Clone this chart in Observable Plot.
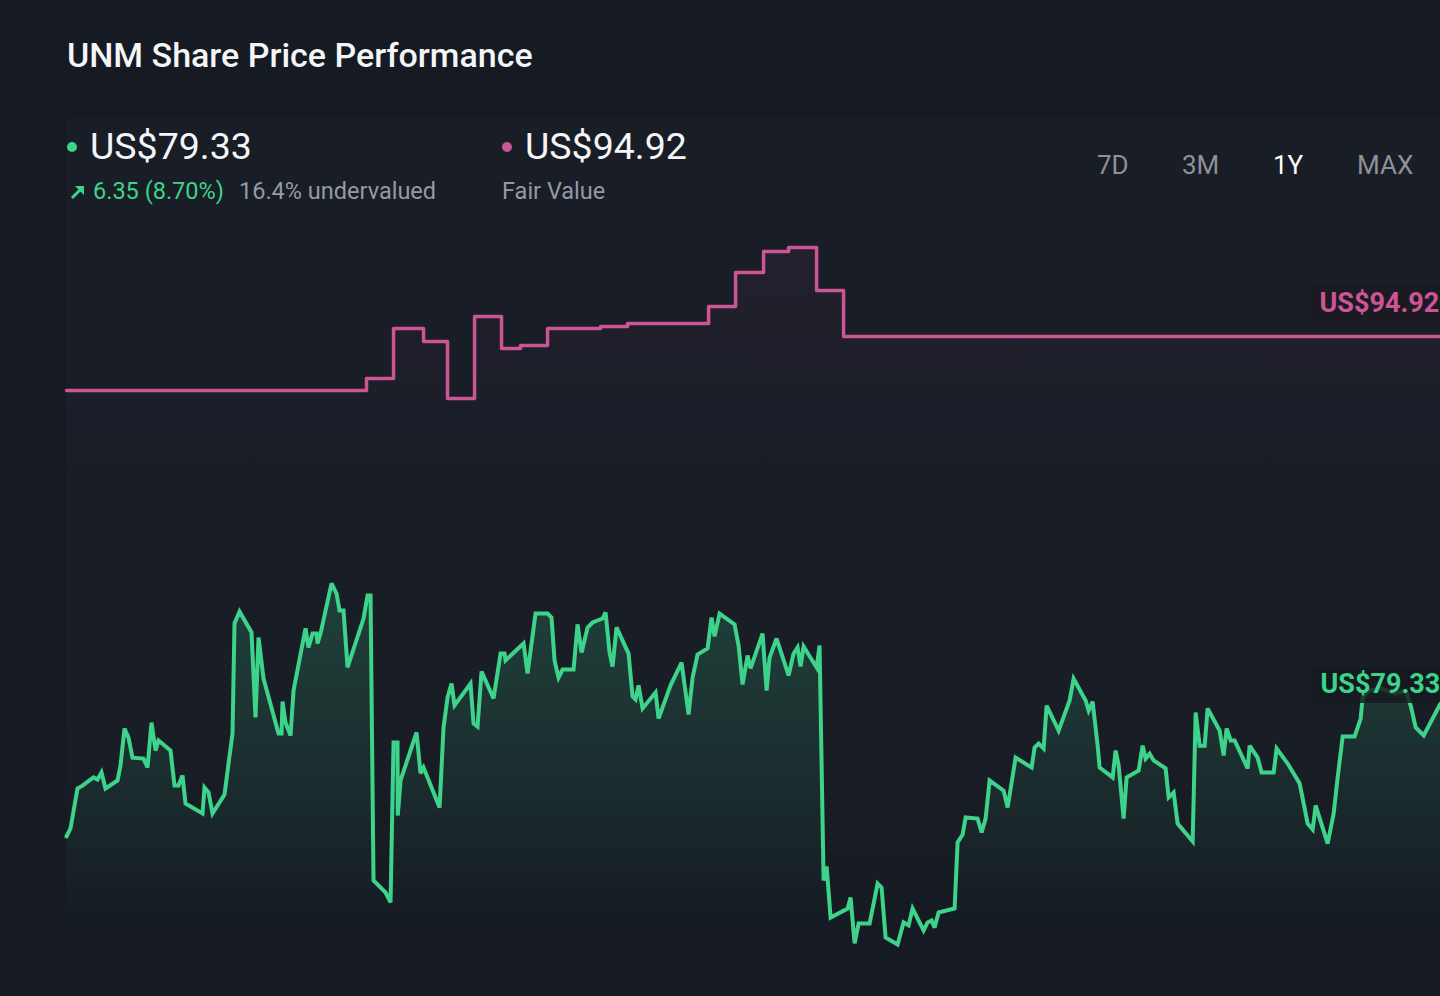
<!DOCTYPE html>
<html>
<head>
<meta charset="utf-8">
<script src="https://cdn.jsdelivr.net/npm/d3@7"></script>
<script src="https://cdn.jsdelivr.net/npm/@observablehq/plot@0.6"></script>
<style>
  html, body { margin: 0; padding: 0; background: #151a23; overflow: hidden; }
  #page { position: relative; width: 1440px; height: 996px; font-family: Roboto, "Noto Sans", sans-serif; }
  #panel { position: absolute; left: 66px; top: 118px; width: 1374px; height: 815px;
           background: linear-gradient(#181d26 0%, #181d26 75%, #151a23 100%); }
  #header { position: relative; height: 210px; }
  .abs { position: absolute; line-height: 1; white-space: nowrap; }
  #title { left: 67px; top: 38px; font-size: 34px; font-weight: 500; color: #f4f5f7; }
  .big { top: 128px; font-size: 37.5px; color: #f4f5f7; }
  .dot { position: absolute; width: 10px; height: 10px; border-radius: 50%; }
  .sub { top: 180px; font-size: 23.5px; }
  .rng { top: 152px; font-size: 26px; color: #8d9299; }
  #chart { position: relative; }
</style>
</head>
<body>
<div id="page">
  <div id="panel"></div>
  <div id="header"></div>
  <div id="chart"></div>
</div>
<script>
// ---------- data ----------
const ticker = "UNM";
const lastPrice = 79.33;
const fairValueNow = 94.92;
const change = "6.35 (8.70%)";
const valuation = "16.4% undervalued";
const ranges = ["7D", "3M", "1Y", "MAX"];
const activeRange = "1Y";

// share price over the last year (day offset, US$)
const priceDay = [0,1.06,2.92,4.25,7.17,8.24,9.30,10.36,13.55,14.35,15.41,16.47,17.53,20.46,21.52,22.58,23.65,24.44,27.63,28.69,29.76,30.82,31.62,36.13,36.66,37.73,38.79,41.98,43.04,44.10,44.63,45.96,49.15,50.21,51.01,52.34,56.32,57.12,57.39,58.18,59.51,60.31,63.50,64.29,65.36,66.42,66.69,67.48,70.41,71.73,72.53,73.59,74.66,78.91,79.97,80.77,81.56,84.75,86.08,86.88,87.94,88.00,88.74,92.99,94.05,94.85,99.10,100.16,101.22,102.29,103.08,107.33,108.13,109.19,110.26,113.44,115.31,116.37,116.63,121.42,122.48,124.60,127.79,128.85,129.65,130.71,131.78,134.70,135.76,136.83,138.42,139.75,142.40,143.20,144.26,145.06,146.12,149.31,150.37,151.17,151.97,153.03,156.49,157.28,160.47,163.39,165.25,166.32,167.64,170.30,171.36,172.16,173.49,177.47,178.54,179.60,180.93,181.72,184.91,185.98,186.77,188.63,191.82,193.15,194.21,195.01,195.81,199.26,200.05,201.12,201.92,202.98,207.50,208.29,209.36,210.42,213.34,215.47,216.53,217.59,220.78,222.37,223.70,224.76,227.69,228.75,229.81,230.61,231.67,235.92,236.72,238.05,238.85,242.03,243.10,244.16,245.22,248.94,250.01,252.13,256.38,257.18,258.24,259.57,260.37,263.55,266.48,267.54,270.73,271.53,272.59,273.92,274.45,277.90,278.70,279.50,280.82,281.62,284.81,285.87,286.67,287.73,288.80,291.98,292.78,294.11,295.17,299.16,299.96,301.02,302.35,303.14,306.33,307.39,308.19,309.25,310.31,313.77,314.30,316.42,317.49,320.68,321.47,324.40,327.59,329.71,331.04,331.83,335.02,336.62,337.68,339.01,342.20,343.79,344.32,345.91,349.10,353.09,355.75,357.08,358.41,360.54,365];
const priceValue = [73.68,74.02,75.72,75.84,76.19,76.10,76.40,75.72,76.06,76.70,78.27,77.88,77.03,76.99,76.61,78.52,77.33,77.76,77.33,75.85,75.85,76.27,75.08,74.66,75.76,75.55,74.66,75.46,76.78,78.05,82.73,83.24,82.35,78.74,82.13,80.39,78.05,78.05,79.41,78.52,77.97,79.88,82.52,81.71,82.30,82.30,81.88,82.30,84.43,84.00,83.28,83.28,80.86,82.94,83.92,83.92,71.81,71.30,70.88,77.67,77.67,74.57,76.06,78.10,76.36,76.61,74.91,78.31,79.59,80.18,79.25,80.18,78.48,78.35,80.69,79.54,81.45,81.45,81.16,81.88,80.60,83.15,83.15,82.98,81.16,80.43,80.77,80.77,82.69,81.50,82.56,82.77,82.94,83.20,81.50,80.90,82.56,81.45,79.63,79.50,80.10,79.12,79.80,78.69,80.10,81.07,78.86,80.43,81.41,81.67,82.98,82.18,83.15,82.69,81.79,80.14,81.37,80.82,82.30,79.88,81.28,82.09,80.52,81.45,81.71,80.90,81.75,80.86,81.79,71.81,72.41,70.24,70.62,71.09,69.14,69.98,69.98,71.68,71.51,69.39,69.09,70.03,69.90,70.62,69.69,70.03,70.11,69.81,70.45,70.62,73.43,73.76,74.49,74.44,73.85,74.44,76.06,75.63,74.91,77.03,76.61,77.46,77.63,77.42,79.24,78.18,79.46,80.39,79.46,79.03,79.41,77.54,76.61,76.19,77.33,76.70,74.44,76.19,76.48,77.54,76.99,77.20,76.91,76.57,75.34,75.55,74.23,73.47,78.95,77.54,77.54,79.12,78.18,77.12,78.27,77.76,77.76,76.57,77.54,77.03,76.40,76.40,77.42,76.78,75.93,74.23,73.98,75.00,73.38,74.66,76.19,77.93,77.93,78.69,79.59,79.88,79.97,79.75,79.88,79.24,78.31,77.97,79.33];

// fair value estimate (step changes), day offset, US$
const fairDay = [0,79.70,86.88,94.85,101.22,108.40,115.57,120.62,127.79,141.87,149.05,170.57,177.74,185.18,191.82,199.26,206.43,365];
const fairValue = [92.63,93.14,95.26,94.71,92.29,95.77,94.41,94.54,95.26,95.34,95.47,96.19,97.64,98.53,98.70,96.87,94.92,94.92];

// ---------- colours ----------
const GREEN = "#3dd38b";
const PINK = "#cc5596";

// ---------- header ----------
const header = document.getElementById("header");
function addEl(cls, id, text, style) {
  const el = document.createElement("div");
  el.className = cls;
  if (id) el.id = id;
  if (text != null) el.textContent = text;
  Object.assign(el.style, style || {});
  header.appendChild(el);
  return el;
}
addEl("abs", "title", `${ticker} Share Price Performance`);
addEl("dot", null, null, { left: "67px", top: "142px", background: GREEN });
addEl("abs big", null, `US$${lastPrice.toFixed(2)}`, { left: "90px" });
addEl("dot", null, null, { left: "502px", top: "142px", background: PINK });
addEl("abs big", null, `US$${fairValueNow.toFixed(2)}`, { left: "525px" });
// arrow icon
const arrow = document.createElement("div");
arrow.className = "abs";
Object.assign(arrow.style, { left: "69px", top: "183px" });
arrow.innerHTML = `<svg width="18" height="18" viewBox="0 0 18 18"><path d="M3 15 L12 6" fill="none" stroke="${GREEN}" stroke-width="3"/><path d="M6 3 H15 V12 Z" fill="${GREEN}"/></svg>`;
header.appendChild(arrow);
addEl("abs sub", null, change, { left: "93px", color: GREEN });
addEl("abs sub", null, valuation, { left: "239px", color: "#959aa1" });
addEl("abs sub", null, "Fair Value", { left: "502px", color: "#959aa1" });
const rangeX = [1097, 1182, 1273, 1357];
ranges.forEach((r, i) => addEl("abs rng", null, r, { left: rangeX[i] + "px", color: r === activeRange ? "#ffffff" : "#8d9299" }));

// ---------- chart ----------
const price = priceDay.map((d, i) => ({ day: d, value: priceValue[i] }));
const fair = fairDay.map((d, i) => ({ day: d, value: fairValue[i] }));
const NS = "http://www.w3.org/2000/svg";

const gradients = (index, scales) => {
  const defs = document.createElementNS(NS, "defs");
  const gTop = scales.y(d3.max(priceValue)), gBot = scales.y(69.6);
  const pTop = scales.y(d3.max(fairValue)), pBot = scales.y(89);
  defs.innerHTML =
    `<linearGradient id="gGreen" gradientUnits="userSpaceOnUse" x1="0" x2="0" y1="${gTop}" y2="${gBot}">
       <stop offset="0" stop-color="${GREEN}" stop-opacity="0.2"/>
       <stop offset="1" stop-color="${GREEN}" stop-opacity="0"/>
     </linearGradient>
     <linearGradient id="gPink" gradientUnits="userSpaceOnUse" x1="0" x2="0" y1="${pTop}" y2="${pBot}">
       <stop offset="0" stop-color="${PINK}" stop-opacity="0.06"/>
       <stop offset="1" stop-color="${PINK}" stop-opacity="0"/>
     </linearGradient>`;
  return defs;
};

const labelBoxes = (index, scales) => {
  const g = document.createElementNS(NS, "g");
  const xEnd = scales.x(d3.max(priceDay));
  const boxes = [
    { v: fairValue[fairValue.length - 1], top: -52, bottom: -14, fill: "#1b1a22", op: 0.95 },
    { v: priceValue[priceValue.length - 1], top: -35, bottom: 0, fill: "#141a1e", op: 0.82 }
  ];
  for (const b of boxes) {
    const r = document.createElementNS(NS, "rect");
    const yv = scales.y(b.v);
    r.setAttribute("x", xEnd - 129);
    r.setAttribute("width", 129);
    r.setAttribute("y", yv + b.top);
    r.setAttribute("height", b.bottom - b.top);
    r.setAttribute("rx", 3);
    r.setAttribute("fill", b.fill);
    r.setAttribute("fill-opacity", b.op);
    g.appendChild(r);
  }
  return g;
};

const chart = Plot.plot({
  width: 1440,
  height: 786,
  marginLeft: 66,
  marginRight: 0,
  marginTop: 0,
  marginBottom: 0,
  style: { background: "transparent", overflow: "visible" },
  x: { domain: [0, 365], range: [66, 1440], axis: null },
  y: { domain: [68, 100], range: [759.7, 6.42], axis: null },
  marks: [
    gradients,
    Plot.areaY(fair, { x: "day", y1: 68, y2: "value", curve: "step-after", fill: "url(#gPink)" }),
    Plot.areaY(price, { x: "day", y1: 68, y2: "value", curve: "linear", fill: "url(#gGreen)" }),
    Plot.line(fair, { x: "day", y: "value", curve: "step-after", stroke: PINK, strokeWidth: 3.5 }),
    Plot.line(price, { x: "day", y: "value", curve: "linear", stroke: GREEN, strokeWidth: 4, strokeLinejoin: "miter", strokeMiterlimit: 3 }),
    labelBoxes,
    Plot.text([fair[fair.length - 1]], {
      x: "day", y: "value", text: d => `US$${d.value.toFixed(2)}`,
      textAnchor: "start", lineAnchor: "middle", dx: -121, dy: -33,
      fill: PINK, fontSize: 27, fontWeight: 700, fontFamily: "Roboto"
    }),
    Plot.text([price[price.length - 1]], {
      x: "day", y: "value", text: d => `US$${d.value.toFixed(2)}`,
      textAnchor: "start", lineAnchor: "middle", dx: -120, dy: -19,
      fill: GREEN, fontSize: 27, fontWeight: 700, fontFamily: "Roboto"
    })
  ]
});
document.getElementById("chart").appendChild(chart);
</script>
</body>
</html>
